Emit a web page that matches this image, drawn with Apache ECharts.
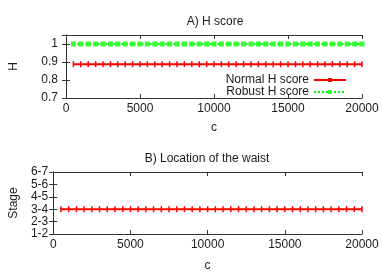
<!DOCTYPE html>
<html><head><meta charset="utf-8">
<script src="https://cdn.jsdelivr.net/npm/echarts@6/dist/echarts.min.js"></script>
<style>html,body{margin:0;padding:0;background:#fff}#c{width:382px;height:273px}</style>
</head><body><div id="c"></div>
<script>
var cValues = [500,1000,1500,2000,2500,3000,3500,4000,4500,5000,5500,6000,6500,7000,7500,8000,8500,9000,9500,10000,
  10500,11000,11500,12000,12500,13000,13500,14000,14500,15000,15500,16000,16500,17000,17500,18000,18500,19000,19500,20000];
var normalH = [0.888,0.888,0.888,0.888,0.888,0.888,0.888,0.888,0.888,0.888,0.888,0.888,0.888,0.888,0.888,0.888,0.888,0.888,0.888,0.888,
  0.888,0.888,0.888,0.888,0.888,0.888,0.888,0.888,0.888,0.888,0.888,0.888,0.888,0.888,0.888,0.888,0.888,0.888,0.888,0.888];
var robustH = [1,1,1,1,1,1,1,1,1,1,1,1,1,1,1,1,1,1,1,1,1,1,1,1,1,1,1,1,1,1,1,1,1,1,1,1,1,1,1,1];
var waistStage = [3,3,3,3,3,3,3,3,3,3,3,3,3,3,3,3,3,3,3,3,3,3,3,3,3,3,3,3,3,3,3,3,3,3,3,3,3,3,3,3];
var stageLabels = ['1-2','2-3','3-4','4-5','5-6','6-7'];

function pairs(xs, ys){ return xs.map(function(x,i){ return [x, ys[i]]; }); }

var FONT = 'Liberation Sans, Arial, sans-serif';
var TXT = '#1a1a1a';
var FRAME = '#333';

function xAxisCfg(gi, show){
  return {type:'value', gridIndex:gi, min:0, max:20000, interval:5000, position: show?'bottom':'top',
    name: show?'c':'', nameLocation:'middle', nameGap:24,
    nameTextStyle:{fontFamily:FONT,fontSize:12,color:TXT},
    axisLine:{show:true,lineStyle:{color:FRAME,width:1}},
    axisTick:{show:true,inside:true,length:4,lineStyle:{color:FRAME}},
    axisLabel:{show:show,fontFamily:FONT,fontSize:12,color:TXT,margin:5,
      formatter:function(v){ return String(v); }},
    splitLine:{show:false}};
}

var option = {
  animation:false,
  title:[
    {text:'A) H score', left:210, top:11, textAlign:'center', textStyle:{fontFamily:FONT,fontSize:12,fontWeight:'normal',color:TXT}},
    {text:'B) Location of the waist', left:202, top:148, textAlign:'center', textStyle:{fontFamily:FONT,fontSize:12,fontWeight:'normal',color:TXT}}
  ],
  grid:[
    {left:58, right:20, top:35, height:63},
    {left:43, right:20, top:172, height:62}
  ],
  legend:{
    right:30, top:69, orient:'vertical', align:'right', itemGap:0, itemWidth:32, itemHeight:5,
    textStyle:{fontFamily:FONT,fontSize:12,color:TXT,lineHeight:12},
    data:['Normal H score','Robust H score']
  },
  xAxis:[
    xAxisCfg(0,true), xAxisCfg(0,false),
    Object.assign(xAxisCfg(1,true),{nameGap:26}), xAxisCfg(1,false)
  ],
  yAxis:[
    {type:'value', gridIndex:0, min:0.7, max:1.05, interval:0.1, position:'left',
     name:'H', nameLocation:'middle', nameGap:46, nameRotate:90,
     nameTextStyle:{fontFamily:FONT,fontSize:12,color:TXT},
     axisLine:{show:true,lineStyle:{color:FRAME}},
     axisTick:{show:true,inside:true,length:4,lineStyle:{color:FRAME}},
     axisLabel:{fontFamily:FONT,fontSize:12,color:TXT,margin:8},
     splitLine:{show:false}},
    {type:'value', gridIndex:0, min:0.7, max:1.05, interval:0.1, position:'right',
     axisLine:{show:true,lineStyle:{color:FRAME}},
     axisTick:{show:true,inside:true,length:4,lineStyle:{color:FRAME}},
     axisLabel:{show:false}, splitLine:{show:false}},
    {type:'value', gridIndex:1, min:1, max:6, interval:1, position:'left',
     name:'Stage', nameLocation:'middle', nameGap:28, nameRotate:90,
     nameTextStyle:{fontFamily:FONT,fontSize:12,color:TXT},
     axisLine:{show:true,lineStyle:{color:FRAME}},
     axisTick:{show:true,inside:true,length:4,lineStyle:{color:FRAME}},
     axisLabel:{fontFamily:FONT,fontSize:12,color:TXT,margin:5,
       formatter:function(v){ return stageLabels[Math.round(v)-1]; }},
     splitLine:{show:false}},
    {type:'value', gridIndex:1, min:1, max:6, interval:1, position:'right',
     axisLine:{show:true,lineStyle:{color:FRAME}},
     axisTick:{show:true,inside:true,length:4,lineStyle:{color:FRAME}},
     axisLabel:{show:false}, splitLine:{show:false}}
  ],
  series:[
    {name:'Normal H score', type:'line', xAxisIndex:0, yAxisIndex:0, data:pairs(cValues,normalH),
     symbol:'rect', symbolSize:[1.5,6], color:'#ff0000',
     lineStyle:{color:'#ff0000',width:2}, itemStyle:{color:'#ff0000'}},
    {name:'Robust H score', type:'line', xAxisIndex:0, yAxisIndex:0, data:pairs(cValues,robustH),
     symbol:'rect', symbolSize:5, color:'#00ee00',
     lineStyle:{color:'#00ee00',width:2,type:[2,2]}, itemStyle:{color:'#33ff33'}},
    {name:'Waist', type:'line', xAxisIndex:2, yAxisIndex:2, data:pairs(cValues,waistStage),
     symbol:'rect', symbolSize:[1.5,6], color:'#ff0000',
     lineStyle:{color:'#ff0000',width:2}, itemStyle:{color:'#ff0000'}}
  ]
};
var chart = echarts.init(document.getElementById('c'), null, {renderer:'canvas'});
chart.setOption(option);
</script></body></html>
